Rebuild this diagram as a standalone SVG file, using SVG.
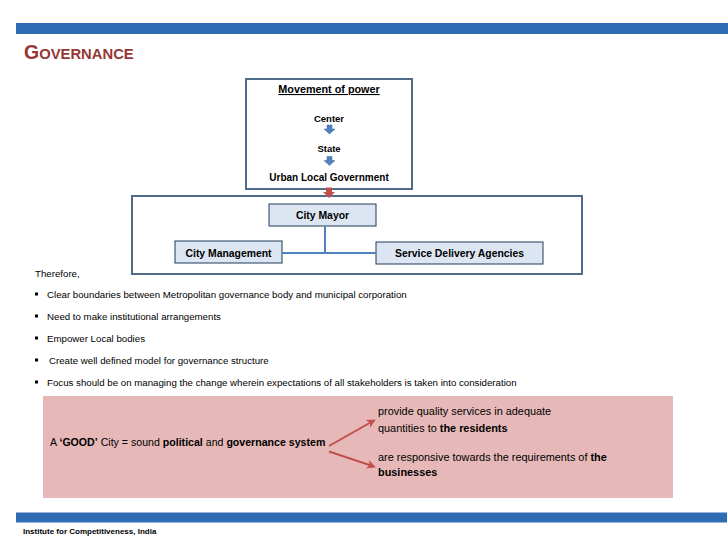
<svg xmlns="http://www.w3.org/2000/svg" width="728" height="546" viewBox="0 0 728 546">
<style>
text{font-family:"Liberation Sans",Arial,sans-serif;fill:#000}
.b{font-weight:bold}
.t{font-size:9.7px}
.p{font-size:10.9px}
.s{font-size:9.5px}
.n{font-size:10.4px}
.box{fill:#DCE6F2;stroke:#1F3B5A;stroke-width:1}
.frame{fill:#fff;stroke:#4F6D8A;stroke-width:2}
.bar{fill:#2E6DB4}
</style>
<defs>
<marker id="ra" markerWidth="9" markerHeight="9" refX="7" refY="4.5" orient="auto" markerUnits="userSpaceOnUse">
<path d="M0,0 L9,4.5 L0,9 L2.5,4.5 Z" fill="#C0504D"/>
</marker>
</defs>
<rect width="728" height="546" fill="#fff"/>
<rect class="bar" x="16" y="23" width="712" height="11"/>
<text x="24" y="59" class="b" style="fill:#953735;font-size:14.8px"><tspan style="font-size:19.5px">G</tspan>OVERNANCE</text>

<g id="movement">
<rect class="frame" x="246" y="79" width="166" height="110"/>
<text x="329" y="93" class="b" style="font-size:10.8px" text-anchor="middle" text-decoration="underline">Movement of power</text>
<text x="329" y="122" class="b s" text-anchor="middle">Center</text>
<path d="M327,125 h5 v4 h3 l-5.5,5 l-5.5,-5 h3 z" fill="#4F81BD" stroke="#3A6BA5" stroke-width="0.5"/>
<text x="329" y="152" class="b s" text-anchor="middle">State</text>
<path d="M327,156.5 h5 v4 h3 l-5.5,5 l-5.5,-5 h3 z" fill="#4F81BD" stroke="#3A6BA5" stroke-width="0.5"/>
<text x="329" y="181" class="b" style="font-size:10px" text-anchor="middle">Urban Local Government</text>
</g>

<g id="structure">
<rect class="frame" x="132" y="196" width="450" height="78"/>
</g>

<g id="mayor">
<rect class="box" x="269" y="204" width="107" height="22"/>
<text x="322.5" y="219" class="b n" text-anchor="middle">City Mayor</text>
</g>
<g id="management">
<rect class="box" x="175" y="241" width="107" height="22"/>
<text x="228.5" y="256.5" class="b n" text-anchor="middle">City Management</text>
</g>
<g id="agencies">
<rect class="box" x="376" y="242" width="167" height="22"/>
<text x="459.5" y="257" class="b n" text-anchor="middle">Service Delivery Agencies</text>
</g>

<g id="bullets">
<text x="35" y="277" class="t">Therefore,</text>
<rect x="35" y="292.5" width="3" height="3"/>
<rect x="35" y="314.5" width="3" height="3"/>
<rect x="35" y="336.5" width="3" height="3"/>
<rect x="35" y="358.5" width="3" height="3"/>
<rect x="35" y="380.5" width="3" height="3"/>
<text x="47" y="297.5" class="t">Clear boundaries between Metropolitan governance body and municipal corporation</text>
<text x="47" y="319.5" class="t">Need to make institutional arrangements</text>
<text x="47" y="341.5" class="t">Empower Local bodies</text>
<text x="49" y="363.5" class="t">Create well defined model for governance structure</text>
<text x="47" y="385.5" class="t">Focus should be on managing the change wherein expectations of all stakeholders is taken into consideration</text>
</g>

<g id="good">
<rect x="43" y="396" width="630" height="102" fill="#E6B9B8"/>
<text x="50" y="446" style="font-size:10.6px">A <tspan class="b">‘GOOD’</tspan> City = sound <tspan class="b">political</tspan> and <tspan class="b">governance system</tspan></text>
<text x="378" y="415" class="p">provide quality services in adequate</text>
<text x="378" y="432" class="p">quantities to <tspan class="b">the residents</tspan></text>
<text x="378" y="461" class="p">are responsive towards the requirements of <tspan class="b">the</tspan></text>
<text x="378" y="475.5" class="p b">businesses</text>
</g>

<g id="connectors">
<path d="M326,187.5 h6 v4.5 h3 l-6,6 l-6,-6 h3 z" fill="#C0504D"/>
<path d="M325,226 V253 M282,253 H376" stroke="#4F81BD" stroke-width="2" fill="none"/>
<path d="M329,446 L374,420.5" stroke="#C0504D" stroke-width="2" fill="none" marker-end="url(#ra)"/>
<path d="M329,451.5 L374,466.5" stroke="#C0504D" stroke-width="2" fill="none" marker-end="url(#ra)"/>
</g>

<rect class="bar" x="16" y="512.5" width="711" height="10"/>
<text x="23" y="534" class="b" style="font-size:8px">Institute for Competitiveness, India</text>
</svg>
